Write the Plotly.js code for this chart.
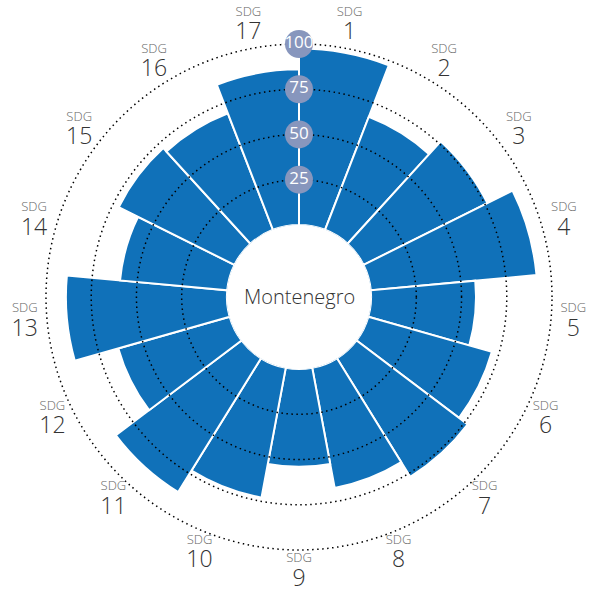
<!DOCTYPE html>
<html>
<head>
<meta charset="utf-8">
<script src="https://cdn.plot.ly/plotly-3.0.1.min.js"></script>
<style>html,body{margin:0;padding:0;background:#fff;}#chart{width:598px;height:590px;}</style>
</head>
<body>
<div id="chart"></div>
<script>
// Data
const goals = ["1","2","3","4","5","6","7","8","9","10","11","12","13","14","15","16","17"];
const scores = [97.5, 67, 76.5, 92, 58, 71, 77, 67.5, 54, 73, 87, 64, 89, 59.5, 71.5, 69, 86];
const gridValues = [25, 50, 75, 100];
const gridLabels = ["25", "50", "75", "100"];
const country = "Montenegro";

const categories = goals.map(g => "SDG " + g);
const goalLabels = goals.map(g =>
  "<span style='font-size:13px;fill:#666'>SDG</span><br><span style='font-size:23px'>" + g + "</span>");
const labelRadius = 112.4;

// geometry of the polar area (pixels)
const W = 598, H = 590, cx = 299, cy = 297, R1 = 253, hole1 = 0.285;
const slope = R1 * (1 - hole1) / 100;
const outerMax = 115;
const R2 = R1 * hole1 + slope * outerMax;
const hole2 = R1 * hole1 / R2;
const domFor = (R, dy) => ({x: [(cx - R) / W, (cx + R) / W],
                            y: [(H - cy - R + dy) / H, (H - cy + R + dy) / H]});
const rotation = 90 - 360 / (2 * goals.length);

const traces = [
  {
    type: "barpolar",
    subplot: "polar",
    r: scores,
    theta: categories,
    marker: {color: "#1071B9", line: {color: "#ffffff", width: 2}},
    hoverinfo: "skip"
  },
  {
    type: "scatterpolar",
    subplot: "polar2",
    mode: "markers+text",
    r: gridValues,
    theta: gridValues.map(() => 0),
    text: gridLabels,
    textposition: "middle center",
    textfont: {family: "Liberation Sans Narrow, Open Sans", size: 17, color: "#ffffff"},
    marker: {size: 28, color: "#8796BD"},
    cliponaxis: false,
    hoverinfo: "skip"
  },
  {
    type: "scatterpolar",
    subplot: "polar3",
    mode: "text",
    r: categories.map(() => labelRadius),
    theta: categories,
    text: goalLabels,
    textposition: "middle center",
    textfont: {family: "Open Sans", size: 18, color: "#333", weight: 300},
    cliponaxis: false,
    hoverinfo: "skip"
  }
];

const hiddenRadial = {showgrid: false, showline: false, showticklabels: false, ticks: ""};

const layout = {
  width: W, height: H,
  margin: {l: 0, r: 0, t: 0, b: 0},
  paper_bgcolor: "#ffffff",
  showlegend: false,
  font: {family: "Open Sans", color: "#333"},
  polar: {
    domain: domFor(R1, 0),
    hole: hole1,
    bgcolor: "rgba(0,0,0,0)",
    bargap: 0,
    radialaxis: Object.assign({range: [0, 100]}, hiddenRadial),
    angularaxis: {
      type: "category", direction: "clockwise", rotation: rotation,
      showgrid: false, showline: false, ticks: "", showticklabels: false
    }
  },
  polar2: {
    domain: domFor(R2, 0),
    hole: hole2,
    bgcolor: "rgba(0,0,0,0)",
    radialaxis: {
      range: [0, outerMax], tickvals: gridValues, showticklabels: false, ticks: "",
      showline: false, showgrid: true, gridcolor: "#000", gridwidth: 1.5, griddash: "1.5px,3.5px"
    },
    angularaxis: {
      direction: "clockwise", rotation: 90, showgrid: false, showline: false,
      showticklabels: false, ticks: ""
    }
  },
  polar3: {
    domain: domFor(R2, 3),
    hole: hole2,
    bgcolor: "rgba(0,0,0,0)",
    radialaxis: Object.assign({range: [0, outerMax]}, hiddenRadial),
    angularaxis: {
      type: "category", direction: "clockwise", rotation: rotation,
      showgrid: false, showline: false, ticks: "", showticklabels: false
    }
  },
  annotations: [{
    text: country, xref: "paper", yref: "paper",
    x: cx / W, y: 1 - cy / H,
    showarrow: false, xanchor: "center", yanchor: "middle",
    font: {family: "Open Sans", size: 20, color: "#333", weight: 300}
  }]
};

Plotly.newPlot("chart", traces, layout, {displayModeBar: false, staticPlot: true});
</script>
</body>
</html>
